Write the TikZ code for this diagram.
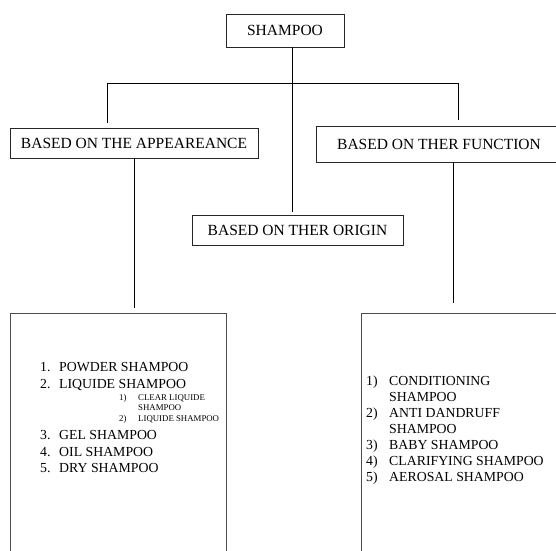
\documentclass[tikz,border=0pt]{standalone}
\usepackage{fontspec}
\setmainfont{Liberation Serif}
\begin{document}
\begin{tikzpicture}[x=1pt,y=-1pt,
		box/.style={draw=black!85,line width=0.8pt,inner sep=0pt,font=\fontsize{15.5}{18}\selectfont},
		listbox/.style={draw=black!70,line width=0.8pt,inner sep=0pt},
		item/.style={anchor=base west,inner sep=0pt,font=\fontsize{13.8}{16}\selectfont},
		subitem/.style={anchor=base west,inner sep=0pt,font=\fontsize{8.8}{10}\selectfont},
		link/.style={black,line width=0.9pt}]
		\useasboundingbox (0,0) rectangle (556,550);
		\clip (0,0) rectangle (556,550);
		% boxes
		\node[box,minimum width=118pt,minimum height=33pt] (shampoo) at (285,30.5) {SHAMPOO};
		\node[box,minimum width=248pt,minimum height=30pt] (appear) at (134,143) {BASED ON THE APPEAREANCE};
		\node[box,minimum width=246pt,minimum height=36pt] (function) at (439,144) {BASED ON THER FUNCTION};
		\node[box,minimum width=211pt,minimum height=30pt] (origin) at (297.5,230) {BASED ON THER ORIGIN};
		\node[listbox,minimum width=216pt,minimum height=260pt] (applist) at (118,443) {};
		\node[listbox,minimum width=220pt,minimum height=260pt] (funclist) at (471,443) {};
		% connectors
		\coordinate (barL) at (107,83);
		\coordinate (barM) at (292,83);
		\coordinate (barR) at (458,83);
		\draw[link] (barL)--(barR);
		\draw[link,shorten >=3pt] (shampoo.south -| barM)--(origin.north -| barM);
		\draw[link,shorten >=5pt] (barL)--(barL |- appear.north);
		\draw[link,shorten >=6pt] (barR)--(barR |- function.north);
		\draw[link,shorten >=5pt] (appear.south)--(appear.south |- applist.north);
		\draw[link,shorten >=10pt] ([xshift=14pt]function.south)--([xshift=14pt]function.south |- funclist.north);
		% lists
		\foreach \y/\n/\t [count=\i] in {371/1./POWDER SHAMPOO,388/2./LIQUIDE SHAMPOO,439/3./GEL SHAMPOO,456/4./OIL SHAMPOO,472/5./DRY SHAMPOO}{
			\node[item] (an\i) at (40,\y) {\n};
			\node[item] (at\i) at (59,\y) {\t};
		}
		\foreach \y/\n/\t [count=\i] in {400/1)/CLEAR LIQUIDE,421/2)/LIQUIDE SHAMPOO}{
			\node[subitem] (sn\i) at (119,\y) {\n};
			\node[subitem] (st\i) at (138,\y) {\t};
		}
		\node[subitem] (st3) at (138,410) {SHAMPOO};
		\foreach \y/\n/\t [count=\i] in {385/1)/CONDITIONING,417/2)/ANTI DANDRUFF,449/3)/BABY SHAMPOO,465/4)/CLARIFYING SHAMPOO,481/5)/AEROSAL SHAMPOO}{
			\node[item] (fn\i) at (366,\y) {\n};
			\node[item] (ft\i) at (389,\y) {\t};
		}
		\node[item] (ft6) at (389,401) {SHAMPOO};
		\node[item] (ft7) at (389,433) {SHAMPOO};
	\end{tikzpicture}
\end{document}
